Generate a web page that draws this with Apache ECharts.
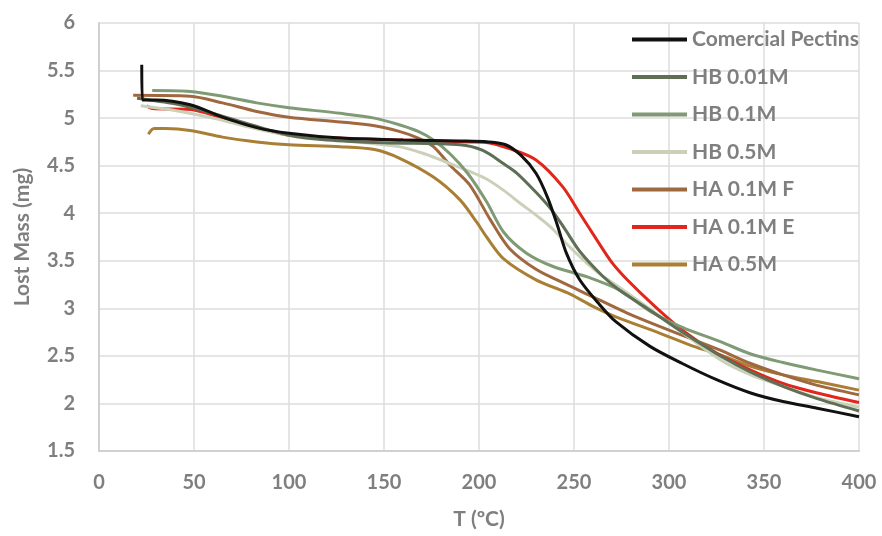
<!DOCTYPE html>
<html>
<head>
    <meta charset="utf-8">
    <title>Lost Mass</title>
    <script src="https://cdn.jsdelivr.net/npm/echarts@6/dist/echarts.min.js"></script>
    <style>
        html, body { margin: 0; padding: 0; background: #fff; }
    </style>
</head>
<body>
    <div id="main" style="width: 882px;height:536px;"></div>
    <script type="text/javascript">
        // T (ºC), mass (mg) pairs
        var comercialPectins = [[22.5,5.56],[22.8,5.19],[30,5.19],[48,5.14],[65,5.01],[83,4.90],[100,4.84],[127,4.79],[160,4.77],[190,4.76],[205,4.75],[214,4.72],[222,4.61],[230,4.42],[236,4.17],[241,3.89],[246,3.58],[253,3.30],[263,3.05],[272,2.86],[290,2.60],[307,2.42],[325,2.25],[343,2.11],[360,2.02],[378,1.95],[400,1.86]];
        var hb001 = [[20,5.21],[40,5.15],[60,5.05],[80,4.93],[100,4.82],[120,4.77],[150,4.74],[190,4.72],[202,4.66],[213,4.52],[220,4.42],[230,4.22],[238,4.04],[245,3.84],[253,3.60],[265,3.34],[274,3.19],[290,2.98],[307,2.75],[327,2.50],[343,2.33],[360,2.18],[378,2.05],[400,1.92]];
        var hb01 = [[28,5.29],[48,5.28],[65,5.23],[83,5.16],[100,5.11],[127,5.05],[145,5.0],[158,4.93],[168,4.86],[176,4.77],[185,4.62],[194,4.42],[204,4.12],[213,3.80],[225,3.58],[239,3.44],[257,3.33],[274,3.19],[290,2.97],[307,2.80],[327,2.65],[343,2.52],[360,2.43],[378,2.35],[400,2.26]];
        var hb05 = [[22,5.13],[40,5.08],[60,5.0],[80,4.9],[100,4.82],[130,4.76],[158,4.70],[172,4.62],[185,4.52],[195,4.44],[204,4.36],[213,4.24],[222,4.10],[230,3.98],[238,3.85],[247,3.66],[257,3.47],[265,3.34],[274,3.22],[300,2.85],[327,2.46],[343,2.3],[360,2.18],[378,2.06],[400,1.96]];
        var ha01F = [[18,5.24],[48,5.23],[65,5.16],[83,5.07],[100,5.01],[127,4.96],[145,4.92],[158,4.86],[168,4.79],[176,4.70],[185,4.50],[195,4.30],[206,3.93],[216,3.63],[230,3.41],[243,3.28],[260,3.12],[278,2.95],[295,2.81],[313,2.67],[327,2.56],[343,2.42],[360,2.3],[378,2.19],[400,2.09]];
        var ha01E = [[25,5.13],[28,5.10],[48,5.09],[65,5.0],[83,4.90],[100,4.82],[127,4.79],[160,4.77],[195,4.75],[205,4.74],[216,4.68],[230,4.56],[244,4.28],[253,4.0],[262,3.72],[270,3.48],[278,3.30],[292,3.03],[307,2.77],[325,2.53],[343,2.35],[360,2.21],[378,2.11],[400,2.01]];
        var ha05 = [[26,4.83],[29,4.89],[35,4.89],[48,4.87],[65,4.80],[83,4.75],[100,4.72],[127,4.70],[145,4.67],[158,4.58],[176,4.38],[190,4.14],[199,3.90],[204,3.75],[213,3.52],[230,3.30],[248,3.15],[260,3.02],[272,2.91],[295,2.74],[313,2.60],[327,2.51],[343,2.39],[360,2.30],[378,2.23],[400,2.14]];

        var seriesNames = ['Comercial Pectins', 'HB 0.01M', 'HB 0.1M', 'HB 0.5M', 'HA 0.1M F', 'HA 0.1M E', 'HA 0.5M'];
        var seriesData = [comercialPectins, hb001, hb01, hb05, ha01F, ha01E, ha05];
        var seriesColors = ['#111111', '#5f6f55', '#7f9a74', '#cbd1b8', '#a0683e', '#e2261b', '#a87f35'];

        var myChart = echarts.init(document.getElementById('main'));
        var labelFont = { color: '#7f7f7f', fontWeight: 'bold', fontSize: 21, fontFamily: 'Lato' };

        var series = [];
        // draw in reverse so black ends up on top
        for (var i = seriesNames.length - 1; i >= 0; i--) {
            series.push({
                name: seriesNames[i],
                type: 'line',
                data: seriesData[i],
                smooth: 0.3,
                showSymbol: false,
                lineStyle: { width: 3, color: seriesColors[i] },
                itemStyle: { color: seriesColors[i] },
                z: 10 - i
            });
        }

        var option = {
            backgroundColor: '#ffffff',
            animation: false,
            grid: { left: 99, right: 23, top: 23, bottom: 85 },
            legend: {
                data: seriesNames,
                orient: 'vertical',
                left: 627,
                top: 24,
                itemWidth: 55,
                itemHeight: 4,
                itemGap: 16.5,
                icon: 'rect',
                textStyle: { color: '#7f7f7f', fontWeight: 'bold', fontSize: 21, fontFamily: 'Lato', lineHeight: 21 }
            },
            xAxis: {
                type: 'value',
                min: 0, max: 400, interval: 50,
                name: 'T (ºC)',
                nameLocation: 'middle',
                nameGap: 58,
                nameTextStyle: labelFont,
                axisLine: { lineStyle: { color: '#d0d0d0', width: 2 } },
                axisTick: { show: false },
                axisLabel: { color: '#7f7f7f', fontWeight: 'bold', fontSize: 20, fontFamily: 'Lato', margin: 22 },
                splitLine: { lineStyle: { color: '#dcdcdc', width: 1.5 } }
            },
            yAxis: {
                type: 'value',
                min: 1.5, max: 6, interval: 0.5,
                name: 'Lost Mass (mg)',
                nameLocation: 'middle',
                nameGap: 66,
                nameTextStyle: labelFont,
                axisLine: { show: true, lineStyle: { color: '#d0d0d0', width: 2 } },
                axisTick: { show: false },
                axisLabel: { color: '#7f7f7f', fontWeight: 'bold', fontSize: 20, fontFamily: 'Lato', margin: 24 },
                splitLine: { lineStyle: { color: '#dcdcdc', width: 1.5 } }
            },
            series: series
        };

        myChart.setOption(option);
    </script>
</body>
</html>
